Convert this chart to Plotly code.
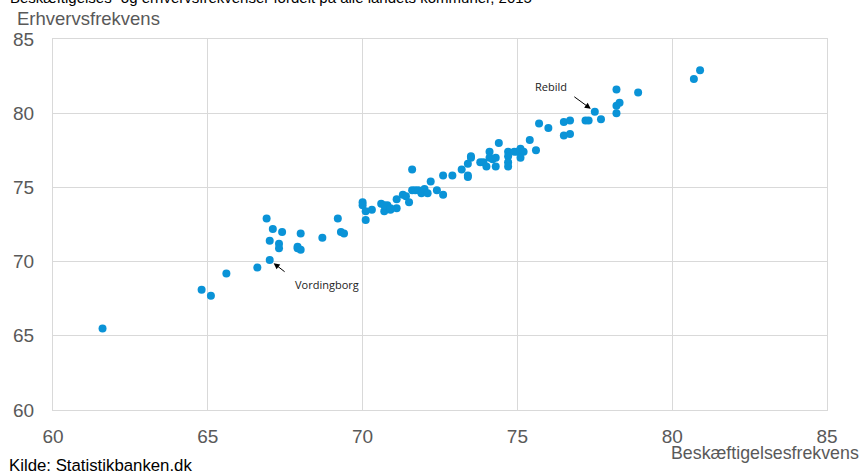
import plotly.graph_objects as go

# Beskæftigelsesfrekvens (x) and Erhvervsfrekvens (y) per kommune, 2015
besk = [61.6, 64.8, 65.1, 65.6, 66.6, 67.0, 66.9, 67.1, 67.4, 67.0, 67.3, 67.3,
        68.0, 67.9, 67.9, 68.0, 68.7, 69.2, 69.3, 69.4, 70.0, 70.0, 70.1, 70.3,
        70.1, 70.6, 70.7, 70.8, 70.9, 71.1, 71.1, 70.7, 70.9, 71.3, 71.4, 71.5,
        71.6, 71.6, 71.7, 71.8, 71.9, 72.0, 72.1, 72.2, 72.4, 72.6, 72.6, 72.9,
        73.2, 73.4, 73.4, 73.4, 73.5, 73.5, 73.8, 73.9, 74.0, 74.1, 74.1, 74.2,
        74.3, 74.3, 74.4, 74.7, 74.7, 74.7, 74.7, 74.9, 75.0, 75.1, 75.1, 75.2,
        75.4, 75.6, 75.7, 76.0, 76.5, 76.7, 76.5, 76.7, 77.2, 77.3, 77.5, 77.7,
        78.2, 78.2, 78.2, 78.3, 78.9, 80.7, 80.9]
erhv = [65.5, 68.1, 67.7, 69.2, 69.6, 70.1, 72.9, 72.2, 72.0, 71.4, 71.2, 70.9,
        71.9, 71.0, 70.9, 70.8, 71.6, 72.9, 72.0, 71.9, 74.0, 73.8, 73.4, 73.5,
        72.8, 73.9, 73.4, 73.8, 73.5, 74.2, 73.6, 73.8, 73.6, 74.5, 74.4, 74.0,
        76.2, 74.8, 74.8, 74.8, 74.6, 74.9, 74.6, 75.4, 74.8, 74.5, 75.8, 75.8,
        76.2, 76.6, 75.8, 75.7, 77.0, 77.1, 76.7, 76.7, 76.4, 77.4, 77.0, 76.9,
        77.0, 76.4, 78.0, 77.4, 77.1, 76.7, 76.4, 77.4, 77.4, 77.6, 77.0, 77.4,
        78.2, 77.5, 79.3, 79.0, 79.4, 79.5, 78.5, 78.6, 79.5, 79.5, 80.1, 79.6,
        80.0, 81.6, 80.5, 80.7, 81.4, 82.3, 82.9]

x_ticks = [60, 65, 70, 75, 80, 85]
y_ticks = [60, 65, 70, 75, 80, 85]

title_text = "Beskæftigelses- og erhvervsfrekvenser fordelt på alle landets kommuner, 2015"
x_title = "Beskæftigelsesfrekvens"
y_title = "Erhvervsfrekvens"
source_text = "Kilde: Statistikbanken.dk"

# labelled kommuner
labels = ["Rebild", "Vordingborg"]
label_pts = [(77.5, 80.1), (67.0, 70.1)]
label_pos = [(76.09, 81.79), (68.85, 68.43)]
arrow_tails = [(76.79, 81.18), (67.53, 69.24)]

FONT = "Liberation Sans, Arial, sans-serif"
GRAY = "#595959"
GRID = "#d9d9d9"

PW, PH = 774.6, 370.6  # plot area size in px

fig = go.Figure()
fig.add_trace(go.Scatter(
    x=besk, y=erhv, mode="markers",
    marker=dict(color="#0a93d7", size=8, line=dict(width=0)),
    hoverinfo="x+y", showlegend=False,
))

annotations = []
for lab, (px, py), (lx, ly), (tx, ty) in zip(labels, label_pts, label_pos, arrow_tails):
    annotations.append(dict(
        x=px, y=py, xref="x", yref="y", ax=tx, ay=ty, axref="x", ayref="y",
        text="", showarrow=True, arrowhead=2, arrowsize=1.2, arrowwidth=1,
        arrowcolor="#000000", standoff=5,
    ))
    annotations.append(dict(
        x=lx, y=ly, xref="x", yref="y", text=lab, showarrow=False,
        font=dict(family="Open Sans, sans-serif", size=11, color="#222222"),
    ))

annotations += [
    dict(x=-45 / PW, y=1.0 + 41 / PH, xref="paper", yref="paper", text=title_text,
         showarrow=False, xanchor="left", yanchor="middle",
         font=dict(family=FONT, size=15, color="#000000")),
    dict(x=-38 / PW, y=1.0 + 20 / PH, xref="paper", yref="paper", text=y_title,
         showarrow=False, xanchor="left", yanchor="middle",
         font=dict(family=FONT, size=18.5, color=GRAY)),
    dict(x=1.0 + 34 / PW, y=-43 / PH, xref="paper", yref="paper", text=x_title,
         showarrow=False, xanchor="right", yanchor="middle",
         font=dict(family=FONT, size=17.8, color=GRAY)),
    dict(x=-46 / PW, y=-55 / PH, xref="paper", yref="paper", text=source_text,
         showarrow=False, xanchor="left", yanchor="middle",
         font=dict(family=FONT, size=16.8, color="#000000")),
]

fig.update_layout(
    width=862, height=472,
    margin=dict(l=53, r=35, t=39, b=62),
    paper_bgcolor="white", plot_bgcolor="white",
    font=dict(family=FONT, color=GRAY),
    annotations=annotations,
    xaxis=dict(range=[60, 85], tickvals=x_ticks, ticktext=[str(v) for v in x_ticks],
               showgrid=True, gridcolor=GRID, gridwidth=1, zeroline=False,
               showline=True, linecolor=GRID, linewidth=1, mirror=True,
               ticks="", ticklabelstandoff=9,
               tickfont=dict(family=FONT, size=19, color=GRAY)),
    yaxis=dict(range=[60, 85], tickvals=y_ticks, ticktext=[str(v) for v in y_ticks],
               showgrid=True, gridcolor=GRID, gridwidth=1, zeroline=False,
               showline=True, linecolor=GRID, linewidth=1, mirror=True,
               ticks="", ticklabelstandoff=14,
               tickfont=dict(family=FONT, size=19, color=GRAY)),
)

fig.write_html("out.html", config={"displayModeBar": False},
               post_script="document.body.style.margin='0';document.body.style.overflow='hidden';")
